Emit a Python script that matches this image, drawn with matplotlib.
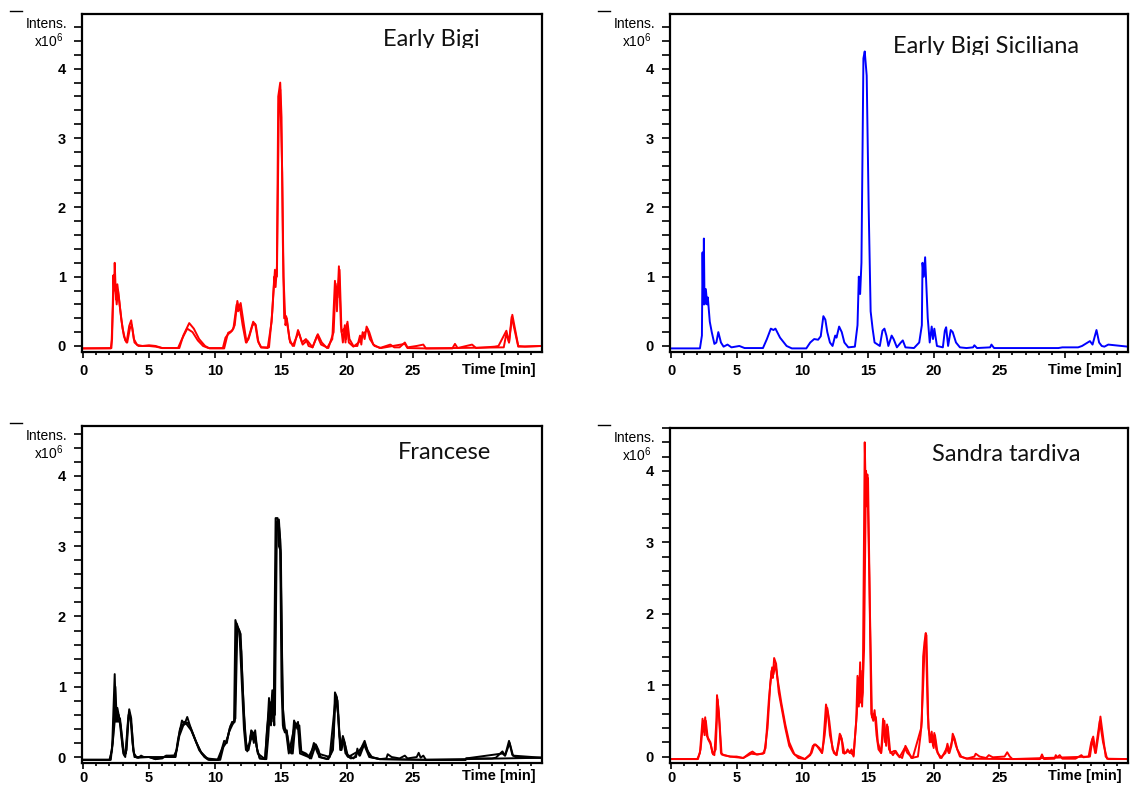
import matplotlib
matplotlib.use("Agg")
import matplotlib.pyplot as plt
from matplotlib.ticker import MultipleLocator, FixedLocator
from matplotlib.transforms import Bbox

W, H = 1131, 790

# chromatogram traces: (time [min], intensity x10^6)
early_bigi_a = [
    (0, -0.035), (2.1, -0.035), (2.2, 0.1), (2.3, 1.02), (2.35, 0.8), (2.4, 1.2), (2.5, 0.67),
    (2.6, 0.89), (2.75, 0.65), (2.9, 0.38), (3.1, 0.14), (3.3, 0.05), (3.5, 0.29), (3.65, 0.37),
    (3.85, 0.1), (4.1, 0.015), (4.5, 0.0), (5.0, 0.01), (5.5, 0.0), (6.0, -0.03), (6.5, -0.03),
    (7.3, -0.03), (7.6, 0.15), (8.05, 0.33), (8.4, 0.25), (8.8, 0.1), (9.25, 0.0), (9.6, -0.035),
    (10.7, -0.035), (10.9, 0.12), (11.0, 0.19), (11.3, 0.22), (11.5, 0.3), (11.7, 0.65), (11.8, 0.55),
    (11.95, 0.62), (12.2, 0.3), (12.4, 0.05), (12.6, 0.15), (12.9, 0.35), (13.1, 0.3), (13.3, 0.05),
    (13.5, -0.02), (14.0, -0.03), (14.3, 0.35), (14.5, 1.0), (14.6, 0.85), (14.7, 1.15), (14.8, 3.6),
    (14.95, 3.8), (15.05, 3.3), (15.15, 1.5), (15.25, 0.4), (15.4, 0.43), (15.5, 0.3), (15.7, 0.05),
    (16.0, 0.0), (16.3, 0.23), (16.6, 0.05), (16.9, 0.1), (17.1, 0.0), (17.4, -0.02), (17.8, 0.17),
    (18.1, 0.05), (18.5, -0.03), (18.9, 0.1), (19.1, 0.94), (19.25, 0.5), (19.4, 1.15), (19.55, 0.3),
    (19.7, 0.05), (19.85, 0.3), (19.95, 0.1), (20.05, 0.35), (20.2, 0.1), (20.5, 0.0), (20.8, 0.0),
    (21.0, 0.15), (21.1, 0.02), (21.2, 0.2), (21.35, 0.1), (21.5, 0.28), (21.7, 0.2), (22.0, 0.02),
    (22.5, -0.03), (23.3, 0.02), (23.6, -0.02), (24.0, -0.02), (24.4, 0.05), (24.6, -0.02),
    (25.3, 0.0), (25.8, 0.02), (26.0, -0.035), (28.0, -0.035), (28.2, 0.03), (28.4, -0.03),
    (29.5, 0.02), (29.8, -0.03), (31.2, -0.01), (31.5, 0.0), (32.1, 0.22), (32.3, 0.05),
    (32.55, 0.45), (32.7, 0.3), (33.0, 0.0), (33.5, -0.01), (34.8, 0.0),
]
early_bigi_b = [
    (0, -0.035), (2.15, -0.03), (2.25, 0.5), (2.35, 1.0), (2.45, 0.85), (2.55, 0.6), (2.65, 0.8),
    (2.8, 0.55), (3.0, 0.25), (3.2, 0.08), (3.35, 0.05), (3.55, 0.25), (3.7, 0.3), (3.9, 0.05),
    (4.2, 0.0), (5.0, 0.0), (5.5, -0.01), (6.0, -0.03), (7.2, -0.03), (7.5, 0.1), (7.9, 0.25),
    (8.3, 0.2), (8.7, 0.08), (9.1, 0.0), (9.5, -0.03), (10.6, -0.03), (10.8, 0.12), (11.0, 0.17),
    (11.2, 0.2), (11.4, 0.25), (11.65, 0.6), (11.75, 0.5), (11.9, 0.55), (12.1, 0.3), (12.35, 0.05),
    (12.55, 0.1), (12.85, 0.3), (13.05, 0.32), (13.25, 0.08), (13.5, -0.02), (14.1, -0.02),
    (14.35, 0.5), (14.55, 1.1), (14.7, 1.0), (14.85, 3.5), (14.95, 3.7), (15.1, 2.5), (15.2, 1.0),
    (15.35, 0.3), (15.45, 0.4), (15.65, 0.1), (15.9, 0.0), (16.35, 0.2), (16.65, 0.02),
    (17.0, 0.08), (17.4, -0.02), (17.75, 0.15), (18.05, 0.02), (18.6, -0.03), (19.0, 0.2),
    (19.15, 0.9), (19.3, 0.7), (19.45, 1.1), (19.6, 0.2), (19.8, 0.25), (19.9, 0.05), (20.0, 0.32),
    (20.15, 0.05), (20.5, -0.01), (20.9, 0.05), (21.05, 0.1), (21.25, 0.18), (21.4, 0.2),
    (21.55, 0.25), (21.75, 0.1), (22.1, 0.0), (22.6, -0.03), (24.4, 0.03), (24.6, -0.03),
    (26.0, -0.035), (31.9, -0.02), (32.1, 0.18), (32.3, 0.05), (32.5, 0.42), (32.7, 0.25),
    (33.0, -0.01), (34.8, 0.0),
]

siciliana = [
    (0, -0.035), (2.2, -0.035), (2.35, 0.15), (2.4, 1.35), (2.45, 0.6), (2.5, 1.55), (2.55, 0.6),
    (2.65, 0.82), (2.75, 0.6), (2.8, 0.7), (2.95, 0.35), (3.1, 0.2), (3.3, 0.03), (3.45, 0.05),
    (3.6, 0.2), (3.8, 0.05), (4.0, -0.01), (4.3, 0.02), (4.6, -0.02), (5.2, 0.0), (5.6, -0.03),
    (7.0, -0.03), (7.3, 0.1), (7.6, 0.25), (7.8, 0.23), (7.95, 0.25), (8.3, 0.12), (8.8, 0.0),
    (9.2, -0.035), (10.3, -0.035), (10.6, 0.05), (10.9, 0.1), (11.2, 0.09), (11.4, 0.14),
    (11.6, 0.43), (11.75, 0.38), (11.9, 0.2), (12.1, 0.05), (12.3, 0.0), (12.5, 0.15), (12.6, 0.12),
    (12.8, 0.28), (13.0, 0.2), (13.2, 0.05), (13.5, -0.02), (14.0, -0.01), (14.2, 0.3), (14.3, 1.0),
    (14.4, 0.75), (14.5, 1.2), (14.65, 4.15), (14.75, 4.25), (14.9, 3.9), (15.05, 2.0), (15.2, 0.5),
    (15.35, 0.25), (15.5, 0.05), (15.9, 0.0), (16.1, 0.22), (16.25, 0.25), (16.4, 0.15),
    (16.55, 0.0), (16.8, 0.15), (16.95, 0.1), (17.2, -0.02), (17.5, 0.05), (17.65, 0.08),
    (17.85, -0.02), (18.5, -0.03), (18.9, 0.05), (19.1, 0.3), (19.15, 1.2), (19.25, 1.0),
    (19.35, 1.28), (19.55, 0.4), (19.7, 0.05), (19.85, 0.28), (19.95, 0.1), (20.05, 0.25),
    (20.25, 0.0), (20.7, -0.02), (20.85, 0.22), (20.95, 0.27), (21.1, 0.0), (21.3, 0.23),
    (21.45, 0.2), (21.7, 0.05), (22.0, -0.02), (22.5, -0.03), (23.0, -0.02), (23.1, 0.01),
    (23.3, -0.03), (24.3, -0.02), (24.4, 0.02), (24.6, -0.03), (29.5, -0.03), (29.8, -0.02),
    (31.0, -0.02), (31.3, 0.0), (31.9, 0.07), (32.1, 0.02), (32.4, 0.23), (32.6, 0.05),
    (32.8, 0.0), (33.0, -0.01), (33.3, 0.02), (34.8, -0.01),
]

francese_a = [
    (0, -0.04), (2.0, -0.04), (2.2, 0.1), (2.3, 0.65), (2.4, 1.18), (2.5, 0.5), (2.6, 0.7),
    (2.75, 0.55), (2.9, 0.3), (3.05, 0.05), (3.2, 0.0), (3.4, 0.5), (3.5, 0.68), (3.65, 0.55),
    (3.8, 0.1), (3.95, 0.0), (4.2, -0.01), (4.4, 0.02), (4.6, 0.0), (5.0, 0.0), (5.5, -0.03),
    (6.0, -0.02), (6.3, 0.02), (6.8, 0.02), (7.0, 0.0), (7.2, 0.25), (7.5, 0.52), (7.7, 0.47),
    (7.9, 0.57), (8.1, 0.45), (8.5, 0.25), (8.9, 0.08), (9.3, 0.0), (9.6, -0.04), (10.2, -0.04),
    (10.5, 0.1), (10.7, 0.23), (10.9, 0.2), (11.1, 0.4), (11.3, 0.5), (11.45, 0.5), (11.55, 1.95),
    (11.7, 1.85), (11.85, 1.8), (12.0, 1.2), (12.2, 0.4), (12.35, 0.1), (12.55, 0.1), (12.7, 0.3),
    (12.8, 0.37), (12.95, 0.2), (13.05, 0.38), (13.2, 0.1), (13.4, -0.02), (13.8, -0.03),
    (14.0, 0.5), (14.1, 0.84), (14.2, 0.5), (14.35, 0.95), (14.45, 0.5), (14.6, 3.4), (14.75, 3.4),
    (14.85, 3.0), (14.95, 2.95), (15.05, 1.0), (15.15, 0.45), (15.3, 0.35), (15.45, 0.38),
    (15.6, 0.1), (15.8, 0.05), (16.0, 0.52), (16.15, 0.45), (16.3, 0.5), (16.45, 0.1), (16.7, 0.05),
    (17.0, 0.03), (17.2, -0.02), (17.5, 0.2), (17.7, 0.15), (17.9, 0.0), (18.5, -0.03), (18.8, 0.05),
    (19.0, 0.3), (19.1, 0.92), (19.25, 0.85), (19.4, 0.4), (19.55, 0.1), (19.7, 0.3), (19.85, 0.2),
    (20.0, 0.02), (20.3, -0.02), (20.7, 0.0), (20.8, 0.12), (20.95, 0.02), (21.15, 0.15),
    (21.35, 0.23), (21.55, 0.1), (21.8, 0.0), (22.5, -0.03), (23.0, -0.02), (23.1, 0.04),
    (23.4, 0.0), (24.0, -0.02), (24.4, 0.02), (24.6, -0.02), (25.3, 0.0), (25.45, 0.06),
    (25.6, -0.01), (25.8, 0.02), (26.0, -0.04), (29.0, -0.04), (29.05, -0.02), (31.0, -0.02),
    (31.3, -0.01), (31.8, 0.08), (32.0, 0.02), (32.3, 0.23), (32.55, 0.03), (32.8, 0.0),
    (33.5, -0.01), (34.8, -0.01),
]
francese_b = [
    (0, -0.04), (2.05, -0.04), (2.25, 0.2), (2.35, 0.6), (2.45, 1.0), (2.55, 0.55), (2.7, 0.6),
    (2.85, 0.45), (3.0, 0.15), (3.15, 0.02), (3.3, 0.1), (3.45, 0.55), (3.55, 0.62), (3.7, 0.4),
    (3.85, 0.05), (4.1, -0.01), (5.0, 0.0), (5.5, -0.03), (6.3, 0.01), (6.9, 0.02), (7.1, 0.1),
    (7.35, 0.4), (7.7, 0.5), (8.0, 0.48), (8.4, 0.3), (8.8, 0.1), (9.2, 0.0), (9.5, -0.04),
    (10.3, -0.04), (10.55, 0.12), (10.8, 0.2), (11.0, 0.3), (11.2, 0.45), (11.5, 0.5), (11.65, 1.9),
    (11.8, 1.82), (11.95, 1.75), (12.1, 1.0), (12.3, 0.3), (12.45, 0.08), (12.6, 0.15),
    (12.75, 0.38), (12.9, 0.25), (13.0, 0.35), (13.15, 0.15), (13.4, -0.02), (13.9, -0.03),
    (14.05, 0.3), (14.2, 0.78), (14.3, 0.55), (14.4, 0.9), (14.55, 0.6), (14.7, 3.35),
    (14.85, 3.3), (14.95, 3.1), (15.05, 2.0), (15.15, 0.7), (15.3, 0.42), (15.5, 0.3),
    (15.7, 0.08), (15.9, 0.05), (16.1, 0.48), (16.25, 0.4), (16.4, 0.45), (16.55, 0.08),
    (16.9, 0.05), (17.3, -0.02), (17.65, 0.18), (17.85, 0.1), (18.0, 0.0), (18.6, -0.03),
    (18.95, 0.1), (19.15, 0.88), (19.3, 0.8), (19.45, 0.3), (19.6, 0.1), (19.75, 0.25),
    (19.9, 0.15), (20.1, 0.0), (20.85, 0.08), (21.0, 0.02), (21.2, 0.12), (21.35, 0.2),
    (21.6, 0.08), (21.9, 0.0), (22.5, -0.03), (26.0, -0.04), (29.0, -0.04), (29.05, -0.02),
    (31.8, 0.05), (32.0, 0.02), (32.35, 0.2), (32.6, 0.02), (34.8, -0.01),
]
francese_c = [
    (0, -0.04), (2.1, -0.04), (2.3, 0.3), (2.5, 0.72), (2.65, 0.5), (2.8, 0.55), (2.95, 0.3),
    (3.1, 0.05), (3.25, 0.05), (3.45, 0.6), (3.6, 0.55), (3.75, 0.2), (3.9, 0.0), (5.0, 0.0),
    (7.0, 0.0), (7.3, 0.3), (7.6, 0.45), (7.8, 0.48), (8.2, 0.38), (8.6, 0.2), (9.0, 0.05),
    (9.4, -0.02), (10.4, -0.04), (10.65, 0.15), (10.85, 0.2), (11.05, 0.35), (11.3, 0.45),
    (11.55, 0.55), (11.7, 1.85), (11.85, 1.78), (12.0, 1.5), (12.2, 0.6), (12.4, 0.12),
    (12.65, 0.2), (12.9, 0.35), (13.05, 0.3), (13.25, 0.05), (13.8, -0.03), (13.95, 0.4),
    (14.15, 0.75), (14.25, 0.45), (14.4, 0.85), (14.5, 0.45), (14.65, 3.2), (14.85, 3.38),
    (15.0, 2.9), (15.1, 1.2), (15.2, 0.4), (15.4, 0.35), (15.6, 0.05), (16.05, 0.45),
    (16.3, 0.45), (16.45, 0.05), (17.1, 0.0), (17.55, 0.17), (17.8, 0.05), (18.7, 0.0),
    (19.15, 0.85), (19.35, 0.6), (19.5, 0.1), (19.7, 0.28), (19.9, 0.05), (20.5, -0.02),
    (21.3, 0.18), (21.7, 0.0), (22.5, -0.03), (26.0, -0.04), (34.8, -0.01),
]

sandra_a = [
    (0, -0.035), (2.0, -0.035), (2.2, 0.05), (2.3, 0.3), (2.4, 0.53), (2.5, 0.35), (2.6, 0.55),
    (2.7, 0.3), (2.85, 0.25), (3.0, 0.2), (3.15, 0.05), (3.3, 0.02), (3.45, 0.5), (3.5, 0.86),
    (3.65, 0.6), (3.8, 0.05), (4.0, 0.02), (4.5, 0.0), (5.0, 0.0), (5.5, -0.02), (6.0, 0.05),
    (6.2, 0.07), (6.5, 0.03), (7.0, 0.04), (7.2, 0.12), (7.45, 0.8), (7.65, 1.2), (7.75, 1.1),
    (7.85, 1.38), (8.0, 1.3), (8.2, 0.9), (8.5, 0.6), (8.7, 0.4), (9.0, 0.15), (9.3, 0.05),
    (9.7, -0.02), (10.2, -0.035), (10.6, 0.02), (10.8, 0.15), (11.0, 0.17), (11.3, 0.12),
    (11.5, 0.05), (11.6, 0.2), (11.8, 0.73), (11.95, 0.6), (12.1, 0.3), (12.4, 0.05), (12.6, 0.02),
    (12.85, 0.32), (13.0, 0.25), (13.1, 0.05), (13.3, 0.05), (13.45, 0.1), (13.6, 0.05),
    (13.75, 0.1), (13.9, 0.0), (14.1, 0.5), (14.2, 1.13), (14.3, 0.7), (14.4, 1.32), (14.5, 0.75),
    (14.6, 0.9), (14.75, 4.4), (14.85, 3.5), (14.95, 3.95), (15.1, 2.5), (15.25, 0.6), (15.4, 0.5),
    (15.5, 0.65), (15.65, 0.3), (15.8, 0.1), (16.0, 0.05), (16.15, 0.53), (16.3, 0.2),
    (16.45, 0.45), (16.6, 0.1), (16.9, 0.02), (17.1, 0.08), (17.3, 0.02), (17.6, -0.02),
    (17.85, 0.15), (18.05, 0.08), (18.3, -0.02), (18.8, 0.0), (19.0, 0.3), (19.1, 0.5),
    (19.2, 1.4), (19.3, 1.6), (19.4, 1.73), (19.55, 0.6), (19.7, 0.2), (19.85, 0.35),
    (19.95, 0.15), (20.05, 0.33), (20.2, 0.1), (20.5, -0.02), (20.9, 0.05), (21.05, 0.18),
    (21.2, 0.05), (21.35, 0.15), (21.45, 0.32), (21.6, 0.25), (21.8, 0.1), (22.1, 0.0),
    (22.5, -0.03), (23.1, 0.0), (23.2, 0.04), (23.5, 0.0), (24.0, -0.02), (24.2, 0.02),
    (24.5, -0.01), (25.4, 0.0), (25.6, 0.06), (25.8, 0.0), (26.0, -0.035), (28.1, -0.035),
    (28.25, 0.03), (28.4, -0.035), (29.2, -0.03), (29.3, 0.02), (29.4, -0.01), (29.6, 0.02),
    (29.8, -0.03), (30.8, -0.03), (31.25, 0.02), (31.4, -0.01), (31.8, 0.0), (32.0, 0.2),
    (32.15, 0.28), (32.35, 0.05), (32.55, 0.3), (32.7, 0.56), (32.85, 0.35), (33.1, 0.0),
    (33.3, -0.035), (34.8, -0.035),
]
sandra_b = [
    (0, -0.035), (2.05, -0.035), (2.25, 0.1), (2.45, 0.5), (2.55, 0.3), (2.65, 0.5), (2.8, 0.25),
    (3.0, 0.18), (3.2, 0.03), (3.4, 0.1), (3.55, 0.8), (3.7, 0.45), (3.85, 0.03), (4.5, 0.0),
    (5.5, -0.02), (6.1, 0.04), (6.6, 0.03), (7.1, 0.05), (7.35, 0.4), (7.55, 1.0), (7.7, 1.25),
    (7.8, 1.15), (7.95, 1.3), (8.1, 1.1), (8.4, 0.75), (8.7, 0.45), (9.0, 0.2), (9.4, 0.03),
    (10.2, -0.035), (10.7, 0.05), (10.9, 0.17), (11.1, 0.15), (11.5, 0.05), (11.7, 0.3),
    (11.9, 0.68), (12.05, 0.5), (12.3, 0.1), (12.6, 0.02), (12.9, 0.3), (13.05, 0.2), (13.2, 0.04),
    (13.5, 0.08), (13.9, 0.02), (14.15, 0.6), (14.25, 1.1), (14.35, 0.75), (14.45, 1.2),
    (14.55, 0.7), (14.7, 1.5), (14.85, 4.0), (14.92, 3.7), (15.0, 3.9), (15.15, 2.0), (15.3, 0.55),
    (15.45, 0.6), (15.6, 0.55), (15.75, 0.2), (16.0, 0.05), (16.25, 0.5), (16.38, 0.15),
    (16.5, 0.42), (16.7, 0.05), (17.0, 0.08), (17.4, -0.01), (17.8, 0.12), (18.0, 0.05),
    (18.4, -0.02), (19.05, 0.4), (19.2, 1.0), (19.3, 1.5), (19.45, 1.7), (19.6, 0.4),
    (19.8, 0.2), (19.9, 0.3), (20.0, 0.12), (20.1, 0.3), (20.3, 0.05), (20.6, -0.02),
    (21.0, 0.12), (21.15, 0.05), (21.5, 0.28), (21.7, 0.15), (22.0, 0.0), (22.6, -0.03),
    (26.0, -0.035), (31.9, 0.0), (32.1, 0.25), (32.3, 0.05), (32.65, 0.5), (32.9, 0.2),
    (33.2, -0.03), (34.8, -0.035),
]

panels = [
    # traces, colour, title, axes box (px: left, top, right, bottom), ylim, title pos (px),
    # title clip y, x label pad (pt), "Time [min]" offset (px)
    ([early_bigi_a, early_bigi_b], "#ff0000", "Early Bigi", (82, 14, 542, 352), (-0.087, 4.79),
     (383, 46), 48, 4.5, -18),
    ([siciliana], "#0000ff", "Early Bigi Siciliana", (670, 14, 1128, 352), (-0.087, 4.79),
     (893, 53), 55, 4.5, -18),
    ([francese_a, francese_b, francese_c], "#000000", "Francese", (82, 426, 542, 763), (-0.085, 4.71),
     (398, 459), 461, 1.5, -13),
    ([sandra_a, sandra_b], "#ff0000", "Sandra tardiva", (670, 428, 1128, 763), (-0.09, 4.6),
     (932, 461), 463, 1.5, -13),
]

plt.rcParams["font.family"] = ["Liberation Sans", "DejaVu Sans"]
plt.rcParams["mathtext.default"] = "regular"

fig = plt.figure(figsize=(W / 100, H / 100), dpi=100)

for traces, color, title, box, ylim, tpos, clip_y, xpad, time_off in panels:
    left, top, right, bottom = box
    ax = fig.add_axes([left / W, 1 - bottom / H, (right - left) / W, (bottom - top) / H])
    for tr in traces:
        t = [p[0] for p in tr]
        v = [p[1] for p in tr]
        ax.plot(t, v, color=color, lw=1.4, solid_joinstyle="round")
    ax.set_xlim(-0.08, 34.8)
    ax.set_ylim(*ylim)

    for s in ax.spines.values():
        s.set_linewidth(1.6)
    ax.xaxis.set_major_locator(FixedLocator([0, 5, 10, 15, 20, 25, 30]))
    ax.xaxis.set_minor_locator(MultipleLocator(1))
    ax.set_xticklabels(["0", "5", "10", "15", "20", "25", ""])
    ax.yaxis.set_major_locator(FixedLocator([0, 1, 2, 3, 4]))
    ax.yaxis.set_minor_locator(FixedLocator([i * 0.2 for i in range(24)]))
    ax.tick_params(axis="x", which="major", direction="out", length=4.5, width=1.2, pad=xpad,
                   labelsize=10.5)
    ax.tick_params(axis="x", which="minor", direction="out", length=2.2, width=1.2)
    ax.tick_params(axis="y", which="both", direction="out", length=5.5, width=1.2, pad=6,
                   labelsize=10.5)
    for lab in ax.get_xticklabels() + ax.get_yticklabels():
        lab.set_fontweight("bold")

    # unit labels sit at a fixed distance below the top of the frame
    ax.annotate("Intens.", xy=(0, 1), xycoords="axes fraction",
                xytext=(-15, -14), textcoords="offset pixels", ha="right", va="baseline",
                fontsize=10)
    ax.annotate("x10$^{6}$", xy=(0, 1), xycoords="axes fraction",
                xytext=(-18, -33), textcoords="offset pixels", ha="right", va="baseline",
                fontsize=10)
    ax.annotate("Time [min]", xy=(1, 0), xycoords="axes fraction",
                xytext=(-6, time_off), textcoords="offset pixels", ha="right", va="center",
                fontsize=10.5, fontweight="bold")

    # small dash at the top-left corner of each panel
    fig.add_artist(plt.Line2D([(left - 72) / W, (left - 60) / W],
                              [1 - (top - 3) / H, 1 - (top - 3) / H],
                              color="black", lw=1.0))

    txt = fig.text(tpos[0] / W, 1 - tpos[1] / H, title, fontsize=17,
                   family=["Lato", "DejaVu Sans"], ha="left", va="baseline", color="#111111")
    txt.set_clip_on(True)
    txt.set_clip_box(Bbox.from_extents(0, H - clip_y, W, H))

fig.savefig("out.png", dpi=100)
